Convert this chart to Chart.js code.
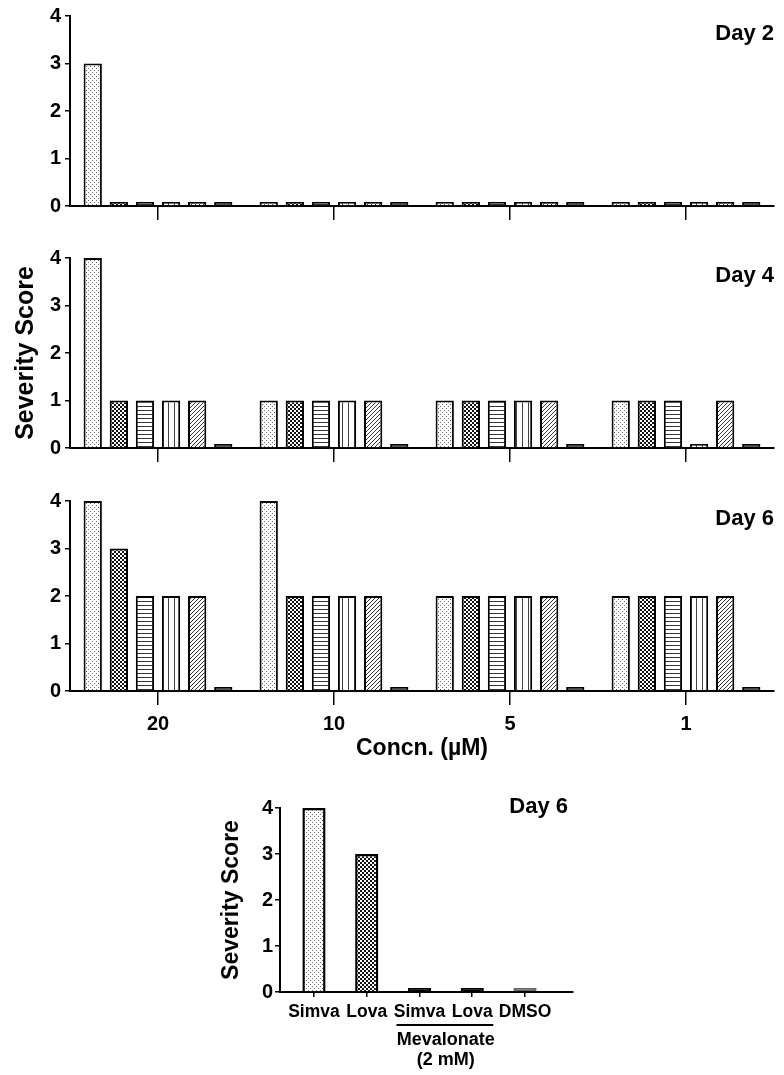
<!DOCTYPE html>
<html>
<head>
<meta charset="utf-8">
<script src="https://cdn.jsdelivr.net/npm/chart.js@4.4.1/dist/chart.umd.min.js"></script>
<style>
  html, body { margin: 0; padding: 0; background: #fff; }
  #wrap { position: relative; width: 784px; height: 1075px; }
  canvas { position: absolute; }
</style>
</head>
<body>
<div id="wrap">
  <canvas id="day2" width="784" height="232" style="left:0;top:0"></canvas>
  <canvas id="day4" width="784" height="232" style="left:0;top:242px"></canvas>
  <canvas id="day6" width="784" height="280" style="left:0;top:485px"></canvas>
  <canvas id="rescue" width="400" height="285" style="left:200px;top:790px"></canvas>
</div>
<script>
// concentration groups (µM) on the x axis
const concentrations = ['20', '10', '5', '1']
const seriesLabels = ['Series 1', 'Series 2', 'Series 3', 'Series 4', 'Series 5', 'Series 6']

// severity score per series, one value per concentration
const day2Scores = [
  [3, 0, 0, 0],
  [0, 0, 0, 0],
  [0, 0, 0, 0],
  [0, 0, 0, 0],
  [0, 0, 0, 0],
  [0, 0, 0, 0]
]
const day4Scores = [
  [4, 1, 1, 1],
  [1, 1, 1, 1],
  [1, 1, 1, 1],
  [1, 1, 1, 0],
  [1, 1, 1, 1],
  [0, 0, 0, 0]
]
const day6Scores = [
  [4, 4, 2, 2],
  [3, 2, 2, 2],
  [2, 2, 2, 2],
  [2, 2, 2, 2],
  [2, 2, 2, 2],
  [0, 0, 0, 0]
]

// mevalonate rescue, day 6
const rescueLabels = ['Simva', 'Lova', 'Simva', 'Lova', 'DMSO']
const rescueScores = [4, 3, 0, 0, 0]

const FONT = '"Liberation Sans", Arial, sans-serif'
Chart.defaults.font.family = FONT
Chart.defaults.color = '#000'

function tile (w, h, draw) {
  const c = document.createElement('canvas')
  c.width = w
  c.height = h
  const ctx = c.getContext('2d')
  ctx.fillStyle = '#fff'
  ctx.fillRect(0, 0, w, h)
  draw(ctx)
  return ctx.createPattern(c, 'repeat')
}

const dots = tile(4, 4, ctx => {
  ctx.fillStyle = '#666'
  ctx.fillRect(0, 0, 1, 1)
  ctx.fillRect(2, 2, 1, 1)
})
const checker = tile(4, 4, ctx => {
  ctx.fillStyle = '#111'
  ctx.fillRect(0, 0, 2, 2)
  ctx.fillRect(2, 2, 2, 2)
})
const hlines = tile(4, 4, ctx => {
  ctx.fillStyle = '#333'
  ctx.fillRect(0, 0, 4, 1)
})
const vlines = tile(6, 6, ctx => {
  ctx.fillStyle = '#444'
  ctx.fillRect(0, 0, 1, 6)
})
const diag = tile(4, 4, ctx => {
  ctx.fillStyle = '#333'
  for (let i = 0; i < 4; i++) ctx.fillRect(3 - i, i, 1, 1)
})
const seriesFills = [dots, checker, hlines, vlines, diag, '#555']

const cornerLabel = {
  id: 'cornerLabel',
  afterDraw (chart, args, opts) {
    if (!opts.text) return
    const { ctx, chartArea } = chart
    ctx.save()
    ctx.font = 'bold ' + opts.size + 'px ' + FONT
    ctx.fillStyle = '#000'
    ctx.textAlign = 'right'
    ctx.textBaseline = 'middle'
    ctx.fillText(opts.text, chartArea.right + opts.dx, chartArea.top + opts.dy)
    ctx.restore()
  }
}

function panel (id, scores, day, opts) {
  return new Chart(document.getElementById(id), {
    type: 'bar',
    data: {
      labels: concentrations,
      datasets: scores.map((values, i) => ({
        label: seriesLabels[i],
        data: values,
        backgroundColor: seriesFills[i],
        borderColor: '#000',
        borderWidth: 2,
        minBarLength: 4,
        categoryPercentage: 0.89,
        barPercentage: 0.7
      }))
    },
    options: {
      responsive: false,
      animation: false,
      layout: { padding: { top: 12, left: opts.padLeft || 0, right: 10, bottom: 0 } },
      plugins: {
        legend: { display: false },
        tooltip: { enabled: false },
        cornerLabel: { text: day, size: 22, dx: 0, dy: 18 }
      },
      scales: {
        x: {
          offset: true,
          grid: { offset: false, drawOnChartArea: false, tickLength: 14, color: '#000', lineWidth: 1.5 },
          border: { color: '#000', width: 2 },
          ticks: {
            display: !!opts.showX,
            padding: 7,
            font: { size: 20, weight: 'bold' },
            maxRotation: 0
          },
          title: {
            display: !!opts.showX,
            text: 'Concn. (µM)',
            font: { size: 23, weight: 'bold' },
            padding: { top: 4, bottom: 3 }
          },
          afterFit: s => { s.height = opts.xHeight }
        },
        y: {
          min: 0,
          max: 4,
          ticks: { stepSize: 1, padding: 4, font: { size: 20, weight: 'bold' } },
          grid: { drawOnChartArea: false, tickLength: 5, color: '#000', lineWidth: 1.5 },
          border: { color: '#000', width: 2 },
          title: {
            display: !!opts.yTitle,
            text: 'Severity Score',
            font: { size: 25, weight: 'bold' },
            padding: { top: 4, bottom: 4 }
          },
          afterFit: s => { s.width = 70 - (opts.padLeft || 0) }
        }
      }
    },
    plugins: [cornerLabel]
  })
}

panel('day2', day2Scores, 'Day 2', { xHeight: 26 })
panel('day4', day4Scores, 'Day 4', { xHeight: 26, yTitle: true, padLeft: 7 })
panel('day6', day6Scores, 'Day 6', { xHeight: 74, showX: true })

// bracket + caption under the mevalonate-treated pair
const groupLabel = {
  id: 'groupLabel',
  afterDraw (chart, args, opts) {
    const { ctx, chartArea } = chart
    const x = chart.scales.x
    const a = x.getPixelForValue(opts.from)
    const b = x.getPixelForValue(opts.to)
    const y = chartArea.bottom
    ctx.save()
    ctx.strokeStyle = '#000'
    ctx.lineWidth = 2
    ctx.beginPath()
    ctx.moveTo(a - 23, y + 33)
    ctx.lineTo(b + 21, y + 33)
    ctx.stroke()
    ctx.fillStyle = '#000'
    ctx.font = 'bold 18px ' + FONT
    ctx.textAlign = 'center'
    ctx.textBaseline = 'middle'
    ctx.fillText(opts.lines[0], (a + b) / 2, y + 48)
    ctx.fillText(opts.lines[1], (a + b) / 2, y + 68)
    ctx.restore()
  }
}

new Chart(document.getElementById('rescue'), {
  type: 'bar',
  data: {
    datasets: [{
      label: 'Day 6',
      data: rescueLabels.map((l, i) => ({ x: i, y: rescueScores[i] })),
      backgroundColor: [dots, checker, '#000', '#000', '#666'],
      borderColor: ['#000', '#000', '#000', '#000', '#666'],
      borderWidth: 2.5,
      minBarLength: 4,
      categoryPercentage: 1,
      barPercentage: 0.44
    }]
  },
  options: {
    responsive: false,
    animation: false,
    layout: { padding: { top: 18, left: 14, right: 27, bottom: 0 } },
    plugins: {
      legend: { display: false },
      tooltip: { enabled: false },
      cornerLabel: { text: 'Day 6', size: 22, dx: -5, dy: -1 },
      groupLabel: { from: 2, to: 3, lines: ['Mevalonate', '(2 mM)'] }
    },
    scales: {
      x: {
        type: 'linear',
        min: -0.644,
        max: 4.91,
        offset: false,
        afterBuildTicks: s => { s.ticks = rescueLabels.map((l, i) => ({ value: i })) },
        ticks: {
          callback: v => rescueLabels[v],
          autoSkip: false,
          maxRotation: 0,
          padding: 5,
          font: { size: 17.5, weight: 'bold' }
        },
        grid: { offset: false, drawOnChartArea: false, tickLength: 5, color: '#000', lineWidth: 1.5 },
        border: { color: '#000', width: 2 },
        afterFit: s => { s.height = 83 }
      },
      y: {
        min: 0,
        max: 4,
        ticks: { stepSize: 1, padding: 2, font: { size: 20, weight: 'bold' } },
        grid: { drawOnChartArea: false, tickLength: 5, color: '#000', lineWidth: 1.5 },
        border: { color: '#000', width: 2 },
        title: {
          display: true,
          text: 'Severity Score',
          font: { size: 23, weight: 'bold' },
          padding: { top: 4, bottom: 4 }
        },
        afterFit: s => { s.width = 66 }
      }
    }
  },
  plugins: [cornerLabel, groupLabel]
})
</script>
</body>
</html>
